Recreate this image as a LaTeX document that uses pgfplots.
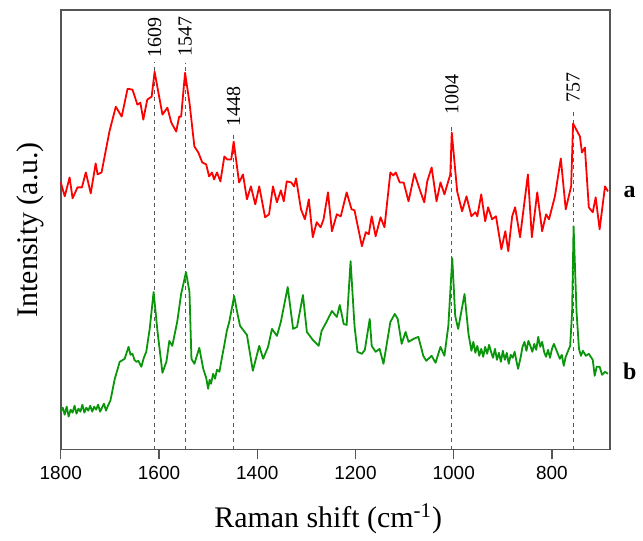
\documentclass[border=0pt]{standalone}
\usepackage{pgfplots}
\usepackage{pgfplotstable}
\pgfplotsset{compat=1.18}
\usepackage{fontspec}
\setmainfont{Liberation Serif}
\setsansfont{Liberation Sans}

\definecolor{specred}{RGB}{255,0,0}
\definecolor{specgreen}{RGB}{10,150,10}
\definecolor{frame}{RGB}{85,85,85}

% spectrum a (red), offset upwards
\pgfplotstableread{
w y
1800 268
1792 254
1782 273
1776 252
1766 263
1757 263
1749 278
1739 257
1729 287
1725 276
1717 278
1701 319
1688 344
1676 334
1664 362
1654 361
1644 346
1638 348
1632 331
1624 351
1615 354
1609 379
1593 336
1583 343
1575 328
1565 319
1559 334
1555 334
1547 378
1538 348
1528 304
1520 298
1512 288
1504 286
1498 274
1492 278
1488 271
1482 278
1475 269
1467 294
1461 291
1453 291
1448 309
1437 268
1429 276
1421 251
1413 264
1404 246
1396 264
1384 233
1376 236
1368 264
1360 248
1352 260
1346 249
1340 269
1331 268
1325 264
1321 272
1311 241
1303 231
1295 251
1287 213
1279 228
1271 223
1265 231
1256 258
1248 219
1238 236
1230 234
1218 258
1208 241
1202 240
1187 204
1179 218
1173 216
1167 234
1159 214
1149 233
1141 223
1129 278
1123 275
1118 278
1110 268
1102 268
1092 249
1080 277
1068 259
1060 248
1054 269
1045 283
1035 249
1027 268
1019 256
1007 276
1004 318
993 259
983 239
974 254
964 234
956 238
952 234
944 256
936 229
930 243
922 231
914 234
903 201
895 219
889 199
881 234
875 243
865 213
849 276
841 213
830 258
820 219
812 236
806 231
794 254
782 292
772 241
761 264
757 327
743 314
739 298
733 303
725 243
717 238
711 253
703 221
692 264
686 259
}\specA

% spectrum b (green)
\pgfplotstableread{
w y
1800 38
1796 42
1792 35
1788 43
1784 33
1780 40
1776 37
1772 44
1768 36
1764 41
1760 38
1756 45
1752 37
1748 42
1744 39
1740 44
1736 38
1732 43
1728 40
1724 45
1720 38
1716 42
1712 46
1708 39
1704 44
1699 49
1690 71
1680 88
1670 91
1666 97
1662 103
1658 95
1654 96
1650 90
1646 88
1642 89
1636 83
1631 92
1626 98
1619 121
1611 158
1603 118
1593 77
1585 88
1579 109
1573 104
1563 128
1555 156
1545 178
1538 158
1534 91
1528 86
1518 102
1510 81
1504 72
1500 61
1497 70
1494 66
1490 76
1486 71
1482 80
1477 78
1472 92
1467 105
1462 119
1457 128
1447 154
1441 138
1435 124
1421 115
1409 79
1396 104
1388 91
1378 103
1370 121
1360 114
1352 128
1338 163
1327 121
1319 123
1307 155
1299 118
1287 110
1275 104
1269 119
1258 129
1248 139
1238 133
1232 145
1224 126
1218 125
1210 189
1202 124
1196 98
1187 96
1181 100
1171 131
1167 104
1159 98
1151 101
1143 86
1129 128
1120 136
1114 131
1106 106
1098 118
1092 108
1082 111
1072 113
1062 94
1056 89
1045 94
1037 87
1027 103
1019 94
1011 124
1003 192
997 134
991 121
978 156
970 116
964 99
960 108
956 97
952 104
948 94
944 101
940 93
936 103
932 96
928 105
924 98
920 92
916 101
912 90
908 97
904 88
900 99
896 90
892 97
888 86
884 95
880 92
876 98
872 88
869 81
864 92
860 103
856 108
852 99
848 109
844 104
840 98
836 106
832 100
828 113
824 103
820 108
816 98
812 93
808 100
804 92
800 101
796 106
792 101
788 96
784 91
780 95
776 84
772 93
768 98
763 104
759 138
756 224
750 138
745 101
741 94
737 99
731 94
725 96
717 90
713 74
709 83
703 83
698 75
692 78
686 76
}\specB

\begin{document}
\begin{tikzpicture}
\begin{axis}[
  width=275.5pt, height=220.5pt, scale only axis,
  x dir=reverse,
  xmin=682, xmax=1800, ymin=0, ymax=441,
  xtick={800,1000,...,1800}, ytick=\empty,
  xtick pos=lower, tick align=outside,
  major tick length=5pt,
  tick style={frame, line width=0.6pt},
  axis line style={frame, line width=0.8pt},
  xticklabel style={font=\sffamily\fontsize{9.5}{10}\selectfont},
  /pgf/number format/assume math mode=true,
  /pgf/number format/1000 sep={},
  xlabel={Raman shift (cm\textsuperscript{-1})},
  ylabel={Intensity (a.u.)},
  label style={font=\fontsize{15}{16}\selectfont},
  xlabel style={at={(axis description cs:0.487,-0.157)}, anchor=center},
  ylabel style={at={(axis description cs:-0.056,0.5)}, anchor=center},
  clip=false,
]
% page frame, so the picture keeps the reference margins
\path (axis description cs:-0.1107,-0.2041) rectangle (axis description cs:1.0563,1.0227);
% marked bands
\foreach \w/\t/\l in {1609/389/393, 1547/388/394, 1448/318/324, 1004/326/336, 757/339/348}{
  \edef\tmp{\noexpand\addplot[black!65, line width=0.5pt, dash pattern=on 2pt off 1.8pt, forget plot]
    coordinates {(\w,0) (\w,\t)};
    \noexpand\node[rotate=90, anchor=west, inner sep=0pt, font=\noexpand\fontsize{10}{11}\noexpand\selectfont]
    at (axis cs:\w,\l) {\w};}
  \tmp
}
\addplot[specred, line width=0.9pt, line join=round] table[x=w, y=y] {\specA};
\addplot[specgreen, line width=0.9pt, line join=round] table[x=w, y=y] {\specB};
\node[font=\bfseries\fontsize{12}{13}\selectfont] at (axis description cs:1.036,0.585) {a};
\node[font=\bfseries\fontsize{12}{13}\selectfont] at (axis description cs:1.036,0.179) {b};
\end{axis}
\end{tikzpicture}
\end{document}
